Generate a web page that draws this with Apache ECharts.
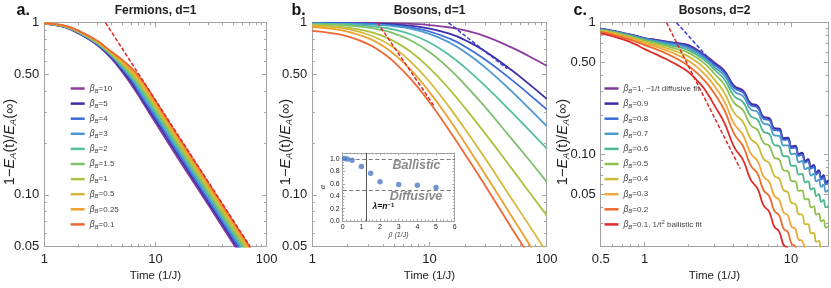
<!DOCTYPE html>
<html>
<head>
<meta charset="utf-8">
<script src="https://cdn.jsdelivr.net/npm/echarts@6.0.0/dist/echarts.min.js"></script>
<style>
html,body{margin:0;padding:0;background:#ffffff;}
#chart{width:831px;height:288px;}
</style>
</head>
<body>
<div id="chart"></div>
<script>
// ================= DATA =================
// ---- Panel a: Fermions, d=1 ----
const timeA = [1,1.5,2,3,4,5,6,7,8,10,15,20,30,50,80];
const betaA = ['10','5','4','3','2','1.5','1','0.5','0.25','0.1'];
const a_b10  = [0.985,0.945,0.87,0.74,0.62,0.52,0.44,0.38,0.33,0.262,0.173,0.130,0.087,0.052,0.0325];
const a_b5   = [0.986,0.947,0.875,0.745,0.63,0.53,0.455,0.39,0.34,0.272,0.18,0.135,0.09,0.054,0.034];
const a_b4   = [0.987,0.95,0.878,0.75,0.64,0.54,0.47,0.40,0.35,0.282,0.187,0.14,0.093,0.056,0.035];
const a_b3   = [0.988,0.952,0.882,0.755,0.645,0.55,0.48,0.415,0.365,0.292,0.193,0.145,0.097,0.058,0.036];
const a_b2   = [0.988,0.954,0.886,0.76,0.65,0.56,0.49,0.43,0.375,0.302,0.2,0.15,0.1,0.06,0.0375];
const a_b1_5 = [0.989,0.956,0.89,0.765,0.655,0.57,0.50,0.44,0.39,0.312,0.207,0.155,0.103,0.062,0.039];
const a_b1   = [0.99,0.958,0.893,0.77,0.66,0.58,0.51,0.455,0.40,0.322,0.213,0.16,0.107,0.064,0.04];
const a_b0_5 = [0.99,0.96,0.896,0.775,0.67,0.59,0.525,0.465,0.41,0.332,0.22,0.165,0.11,0.066,0.041];
const a_b0_25= [0.991,0.962,0.9,0.78,0.675,0.60,0.535,0.48,0.425,0.342,0.227,0.17,0.113,0.068,0.0425];
const a_b0_1 = [0.991,0.964,0.903,0.785,0.68,0.61,0.55,0.495,0.44,0.352,0.233,0.175,0.117,0.07,0.044];
const fitA_red = [[3.55,1.0],[71,0.05]];

// ---- Panel b: Bosons, d=1 ----
const timeB = [1,1.5,2,3,4,5,7,10,15,20,30,50,70,100];
const b_b10  = [0.999,0.999,0.998,0.997,0.995,0.992,0.984,0.969,0.938,0.902,0.832,0.719,0.641,0.562];
const b_b5   = [0.997,0.996,0.995,0.99,0.985,0.977,0.959,0.925,0.86,0.793,0.681,0.531,0.443,0.361];
const b_b4   = [0.994,0.992,0.99,0.983,0.974,0.963,0.936,0.889,0.805,0.728,0.61,0.467,0.386,0.314];
const b_b3   = [0.991,0.989,0.986,0.978,0.967,0.953,0.92,0.862,0.763,0.676,0.548,0.40,0.32,0.251];
const b_b2   = [0.986,0.982,0.976,0.959,0.937,0.912,0.854,0.767,0.643,0.55,0.428,0.303,0.239,0.186];
const b_b1_5 = [0.979,0.972,0.962,0.935,0.902,0.865,0.786,0.675,0.534,0.437,0.322,0.212,0.161,0.119];
const b_b1   = [0.967,0.953,0.935,0.889,0.835,0.779,0.673,0.545,0.406,0.321,0.226,0.143,0.105,0.076];
const b_b0_5 = [0.963,0.943,0.918,0.854,0.783,0.713,0.589,0.454,0.318,0.242,0.162,0.0954,0.0674,0.0464];
const b_b0_25= [0.944,0.92,0.888,0.813,0.733,0.656,0.528,0.395,0.27,0.201,0.131,0.0754,0.0524,0.0353];
const b_b0_1 = [0.896,0.868,0.833,0.751,0.667,0.59,0.467,0.345,0.2326,0.173,0.1126,0.0645,0.0449,0.0302];
const fitB_red  = [[3.6,1.0],[11,0.327]];
const fitB_blue = [[14.5,1.0],[46,0.54]];

// ---- Inset: exponent alpha vs beta ----
const insetBeta  = [0.1,0.25,0.5,1,1.5,2,3,4,5];
const insetAlpha = [1.01,1.0,0.98,0.88,0.77,0.635,0.59,0.575,0.54];
const insetHLines = [1.0,0.5];
const insetVLine = 1.25;

// ---- Panel c: Bosons, d=2 ----
const timeC = [0.5,0.6,0.7,0.85,1,1.2,1.4,1.6,1.8,2,2.25,2.5,2.75,3,3.5,4.1,4.7,5.3,5.9,6.5,7.1,7.7,8.3,8.9,9.5,10.1,10.7,11.3,11.9,12.5,13.1,13.7,14.3,14.9,15.5,16.1,16.7,17.3,18];
const betaC = ['1','0.9','0.8','0.7','0.6','0.5','0.4','0.3','0.2','0.1'];
const c_b1   = [0.90,0.87,0.84,0.80,0.765,0.74,0.72,0.705,0.695,0.675,0.63,0.58,0.54,0.50,0.434,0.332,0.307,0.245,0.235,0.193,0.189,0.158,0.157,0.133,0.134,0.1145,0.116,0.100,0.1025,0.089,0.0915,0.080,0.0825,0.0724,0.0751,0.0661,0.0687,0.0607,0.0629];
const c_b0_9 = [0.90,0.868,0.838,0.798,0.762,0.737,0.716,0.70,0.688,0.667,0.622,0.573,0.532,0.49,0.427,0.327,0.303,0.243,0.233,0.192,0.188,0.1576,0.1569,0.1331,0.1341,0.115,0.1168,0.1009,0.1033,0.0898,0.0924,0.0807,0.0834,0.0732,0.076,0.067,0.0697,0.0616,0.0639];
const c_b0_8 = [0.895,0.864,0.834,0.794,0.757,0.731,0.709,0.692,0.678,0.656,0.612,0.563,0.522,0.48,0.4177,0.3195,0.2958,0.2366,0.2267,0.1864,0.1826,0.1528,0.1521,0.129,0.1299,0.1113,0.113,0.0976,0.0998,0.0867,0.0892,0.0779,0.0804,0.0706,0.0732,0.0645,0.0671,0.0593,0.0615];
const c_b0_7 = [0.89,0.86,0.83,0.789,0.75,0.722,0.698,0.678,0.662,0.638,0.594,0.548,0.505,0.46,0.3973,0.3014,0.2773,0.2205,0.2102,0.1718,0.1677,0.1397,0.1385,0.1171,0.1175,0.1004,0.1016,0.0876,0.0893,0.0774,0.0794,0.0692,0.0714,0.0625,0.0646,0.0568,0.059,0.0521,0.0539];
const c_b0_6 = [0.885,0.855,0.823,0.782,0.742,0.712,0.685,0.662,0.643,0.617,0.574,0.53,0.487,0.44,0.3725,0.277,0.2501,0.1957,0.1841,0.1487,0.1434,0.1182,0.1161,0.0973,0.0968,0.082,0.0824,0.0705,0.0714,0.0615,0.0627,0.0543,0.0557,0.0485,0.05,0.0437,0.0452,0.0397,0.0408];
const c_b0_5 = [0.88,0.848,0.815,0.772,0.73,0.697,0.667,0.64,0.617,0.59,0.546,0.502,0.457,0.41,0.3387,0.2455,0.217,0.1666,0.1539,0.1224,0.1164,0.0947,0.0919,0.0761,0.075,0.0629,0.0626,0.0531,0.0534,0.0456,0.0461,0.0397,0.0404,0.035,0.0358,0.0311,0.032,0.0279,0.0285];
const c_b0_4 = [0.87,0.837,0.803,0.758,0.714,0.677,0.643,0.612,0.583,0.553,0.508,0.463,0.415,0.37,0.295,0.2061,0.1766,0.1319,0.1189,0.0924,0.0862,0.0688,0.0657,0.0535,0.0519,0.0429,0.0422,0.0353,0.0351,0.0296,0.0297,0.0253,0.0255,0.0218,0.0221,0.0191,0.0195];
const c_b0_3 = [0.86,0.825,0.79,0.743,0.697,0.655,0.617,0.582,0.547,0.513,0.466,0.42,0.375,0.33,0.2532,0.17,0.1407,0.102,0.0895,0.068,0.0619,0.0485,0.0454,0.0364,0.0347,0.0283,0.0274,0.0226,0.0222,0.0185];
const c_b0_2 = [0.85,0.812,0.775,0.725,0.675,0.628,0.585,0.545,0.506,0.468,0.42,0.375,0.332,0.29,0.2177,0.143,0.1161,0.0828,0.0716,0.0536,0.0483,0.0374,0.0346,0.0274,0.0259,0.021,0.0201,0.0165];
const c_b0_1 = [0.83,0.79,0.75,0.69,0.63,0.575,0.53,0.49,0.455,0.42,0.37,0.325,0.278,0.235,0.1745,0.1134,0.0912,0.0645,0.0553,0.0411,0.0368,0.0283,0.0261,0.0206,0.0194,0.015];
const fitC_red  = [[1.41,1.0],[4.5,0.078]];
const fitC_blue = [[1.65,1.0],[2.95,0.49]];

// ---- Tick labels ----
const yTickValsAB = [0.05,0.1,0.5,1];
const yTickTextAB = ['0.05','0.10','0.50','1'];
const yMinorAB = [0.06,0.07,0.08,0.09,0.2,0.3,0.4,0.6,0.7,0.8,0.9];
const xTickValsAB = [1,10,100];
const xTickTextAB = ['1','10','100'];
const xMinorAB = [2,3,4,5,6,7,8,9,20,30,40,50,60,70,80,90];
const yTickValsC = [0.05,0.1,0.5,1];
const yTickTextC = ['0.05','0.10','0.50','1'];
const yMinorC = [0.02,0.03,0.04,0.06,0.07,0.08,0.09,0.2,0.3,0.4,0.6,0.7,0.8,0.9];
const xTickValsC = [0.5,1,10];
const xTickTextC = ['0.5','1','10'];
const xMinorC = [0.6,0.7,0.8,0.9,2,3,4,5,6,7,8,9];
const xTickValsIn = [0,1,2,3,4,5,6];
const xTickTextIn = ['0','1','2','3','4','5','6'];
const yTickValsIn = [0,0.2,0.4,0.6,0.8,1.0];
const yTickTextIn = ['0.0','0.2','0.4','0.6','0.8','1.0'];
const xMinorIn = [0.2,0.4,0.6,0.8,1.2,1.4,1.6,1.8,2.2,2.4,2.6,2.8,3.2,3.4,3.6,3.8,4.2,4.4,4.6,4.8,5.2,5.4,5.6,5.8];
const yMinorIn = [0.05,0.1,0.15,0.25,0.3,0.35,0.45,0.5,0.55,0.65,0.7,0.75,0.85,0.9,0.95,1.05];

// ---- Colours ----
const colorsAB = ['#8b3c9d','#3b2ea6','#3d6cd9','#4a98d0','#55bfa0','#80c06c','#a9c340','#d6b93b','#f0a02e','#ec6934'];
const colorsC  = ['#7d3b98','#3a2ea8','#3e6cd6','#4c9ac9','#4cb88c','#8fc04f','#cdbb34','#f0a83a','#ef6b2c','#e02b2b'];
const fitRed = '#e0282a', fitBlue = '#3c3cc8';

// ================= BUILD =================
const fnt = 'Liberation Sans, Arial, Helvetica, sans-serif';
const frame = '#a3a3a3';
const xAxes = [], yAxes = [];

function fmtPairs(vals, texts) {
  return function (v) {
    for (let i = 0; i < vals.length; i++) {
      if (Math.abs(v - vals[i]) <= 1e-6 * Math.abs(vals[i]) + 1e-9) return texts[i];
    }
    return '';
  };
}

function addAxes(list, gridIndex, dim, type, min, max, majors, minors, labels, fmt, o) {
  const mainPos = dim === 'x' ? 'bottom' : 'left';
  const oppPos = dim === 'x' ? 'top' : 'right';
  const base = {type: type, gridIndex: gridIndex, min: min, max: max, splitLine: {show: false}, splitArea: {show: false}, axisPointer: {show: false}, silent: true};
  if (type === 'log') base.logBase = 10;
  const idx = list.length;
  list.push(Object.assign({}, base, {
    position: mainPos,
    axisLine: {show: true, onZero: false, lineStyle: {color: frame, width: 1}},
    axisTick: {show: true, inside: true, length: o.major, customValues: majors, lineStyle: {color: frame, width: 1}},
    axisLabel: {show: true, customValues: labels, formatter: fmt, margin: o.margin, fontSize: o.fs, color: '#222', fontFamily: fnt}
  }));
  list.push(Object.assign({}, base, {
    position: mainPos,
    axisLine: {show: false, onZero: false},
    axisTick: {show: true, inside: true, length: o.minor, customValues: minors, lineStyle: {color: frame, width: 1}},
    axisLabel: {show: false}
  }));
  list.push(Object.assign({}, base, {
    position: oppPos,
    axisLine: {show: true, onZero: false, lineStyle: {color: frame, width: 1}},
    axisTick: {show: true, inside: true, length: o.major, customValues: majors, lineStyle: {color: frame, width: 1}},
    axisLabel: {show: false}
  }));
  list.push(Object.assign({}, base, {
    position: oppPos,
    axisLine: {show: false, onZero: false},
    axisTick: {show: true, inside: true, length: o.minor, customValues: minors, lineStyle: {color: frame, width: 1}},
    axisLabel: {show: false}
  }));
  return idx;
}

const mainOpt = {major: 4.5, minor: 2.5, margin: 6, fs: 13};
const mainOptY = {major: 4.5, minor: 2.5, margin: 5, fs: 13};
const inOpt = {major: 2.5, minor: 1.5, margin: 3, fs: 7};

const grids = [
  {left: 44.3, top: 22.7, width: 222.4, height: 224},
  {left: 312.3, top: 22.7, width: 234.4, height: 224},
  {left: 600.7, top: 22.7, width: 227.6, height: 224},
  {left: 342.7, top: 152.8, width: 112, height: 68.2, show: true, backgroundColor: '#ffffff', borderWidth: 0}
].map(g => Object.assign({containLabel: false, outerBoundsMode: 'none'}, g));

const xa = addAxes(xAxes, 0, 'x', 'log', 1, 100, xTickValsAB, xMinorAB, xTickValsAB, fmtPairs(xTickValsAB, xTickTextAB), mainOpt);
const ya = addAxes(yAxes, 0, 'y', 'log', 0.05, 1, yTickValsAB, yMinorAB, yTickValsAB, fmtPairs(yTickValsAB, yTickTextAB), mainOptY);
const xb = addAxes(xAxes, 1, 'x', 'log', 1, 100, xTickValsAB, xMinorAB, xTickValsAB, fmtPairs(xTickValsAB, xTickTextAB), mainOpt);
const yb = addAxes(yAxes, 1, 'y', 'log', 0.05, 1, yTickValsAB, yMinorAB, yTickValsAB, fmtPairs(yTickValsAB, yTickTextAB), mainOptY);
const xc = addAxes(xAxes, 2, 'x', 'log', 0.5, 18, xTickValsC, xMinorC, xTickValsC, fmtPairs(xTickValsC, xTickTextC), mainOpt);
const yc = addAxes(yAxes, 2, 'y', 'log', 0.02, 1, yTickValsC, yMinorC, yTickValsC, fmtPairs(yTickValsC, yTickTextC), mainOptY);
const xi = addAxes(xAxes, 3, 'x', 'value', 0, 6, xTickValsIn, xMinorIn, xTickValsIn, fmtPairs(xTickValsIn, xTickTextIn), inOpt);
const yi = addAxes(yAxes, 3, 'y', 'value', 0, 1.1, yTickValsIn, yMinorIn, yTickValsIn, fmtPairs(yTickValsIn, yTickTextIn), inOpt);

function lineSeries(name, xs, ys, color, xIdx, yIdx, sm) {
  return {
    type: 'line', name: name, xAxisIndex: xIdx, yAxisIndex: yIdx,
    data: ys.map((v, i) => [xs[i], v]),
    showSymbol: false, symbol: 'none', smooth: sm, clip: true,
    color: color, lineStyle: {width: 1.8, color: color}, itemStyle: {color: color},
    emphasis: {disabled: true}, silent: true, z: 3, animation: false
  };
}
function fitSeries(name, pts, color, xIdx, yIdx) {
  return {
    type: 'line', name: name, xAxisIndex: xIdx, yAxisIndex: yIdx, data: pts,
    showSymbol: false, symbol: 'none', smooth: false, clip: true,
    lineStyle: {width: 1.5, color: color, type: [4, 2]}, color: color,
    emphasis: {disabled: true}, silent: true, z: 4, animation: false
  };
}

const seriesA = [a_b10, a_b5, a_b4, a_b3, a_b2, a_b1_5, a_b1, a_b0_5, a_b0_25, a_b0_1];
const seriesB = [b_b10, b_b5, b_b4, b_b3, b_b2, b_b1_5, b_b1, b_b0_5, b_b0_25, b_b0_1];
const seriesC = [c_b1, c_b0_9, c_b0_8, c_b0_7, c_b0_6, c_b0_5, c_b0_4, c_b0_3, c_b0_2, c_b0_1];

const series = [];
const namesA = [], namesC = [];
seriesA.forEach((ys, k) => { const n = 'a' + k; namesA.push(n); series.push(lineSeries(n, timeA, ys, colorsAB[k], xa, ya, 0.4)); });
series.push(fitSeries('fitA', fitA_red, fitRed, xa, ya));
seriesB.forEach((ys, k) => { series.push(lineSeries('b' + k, timeB, ys, colorsAB[k], xb, yb, 0.5)); });
series.push(fitSeries('fitBr', fitB_red, fitRed, xb, yb));
series.push(fitSeries('fitBb', fitB_blue, fitBlue, xb, yb));
seriesC.forEach((ys, k) => { const n = 'c' + k; namesC.push(n); series.push(lineSeries(n, timeC, ys, colorsC[k], xc, yc, 0.5)); });
series.push(fitSeries('fitCr', fitC_red, fitRed, xc, yc));
series.push(fitSeries('fitCb', fitC_blue, fitBlue, xc, yc));

series.push({
  type: 'scatter', name: 'inset', xAxisIndex: xi, yAxisIndex: yi,
  data: insetBeta.map((b, i) => [b, insetAlpha[i]]),
  symbol: 'circle', symbolSize: 5.5, itemStyle: {color: '#4f7cc4'}, z: 6, silent: true, animation: false,
  markLine: {
    silent: true, symbol: 'none', animation: false, label: {show: false},
    data: insetHLines.map(v => ({yAxis: v, lineStyle: {type: [4, 2.5], color: '#7a7a7a', width: 1.2}}))
      .concat([{xAxis: insetVLine, lineStyle: {type: 'solid', color: '#555', width: 1}}])
  }
});

const legA = {};
namesA.forEach((n, k) => { legA[n] = '{b|β}{s|B}{n|=' + betaA[k] + '}'; });
const legC = {};
namesC.forEach((n, k) => {
  let t = '{b|β}{s|B}{n|=' + betaC[k] + '}';
  if (k === 0) t = '{b|β}{s|B}{n|=1, ~1/t diffusive fit}';
  if (k === 9) t = '{b|β}{s|B}{n|=0.1, 1/t}{p|2}{n| ballistic fit}';
  legC[n] = t;
});
const richLeg = {
  b: {fontStyle: 'italic', fontSize: 8.5, lineHeight: 11, fontFamily: fnt, color: '#444'},
  s: {fontStyle: 'italic', fontSize: 6, lineHeight: 5, verticalAlign: 'bottom', fontFamily: fnt, color: '#444'},
  n: {fontSize: 8, lineHeight: 11, fontFamily: fnt, color: '#444'},
  p: {fontSize: 6, lineHeight: 5, verticalAlign: 'top', fontFamily: fnt, color: '#444'}
};
function legendCfg(data, left, fmtMap) {
  return {
    data: data, orient: 'vertical', left: left, top: 83, padding: 0,
    itemWidth: 14, itemHeight: 2.5, itemGap: 4.1, icon: 'rect', selectedMode: false,
    formatter: n => fmtMap[n],
    textStyle: {color: '#444', fontFamily: fnt, fontSize: 8, lineHeight: 11, rich: richLeg}
  };
}

const yNameRich = {
  n: {fontSize: 14.5, fontFamily: fnt, fill: '#222', lineHeight: 17},
  e: {fontSize: 14.5, fontStyle: 'italic', fontFamily: fnt, fill: '#222', lineHeight: 17},
  s: {fontSize: 9.5, fontStyle: 'italic', fontFamily: fnt, fill: '#222', lineHeight: 8, verticalAlign: 'bottom'}
};
const yNameText = '{n|1−}{e|E}{s|A}{n|(t)/}{e|E}{s|A}{n|(∞)}';
function yName(x) {
  return {type: 'text', x: x, y: 142, rotation: Math.PI / 2, silent: true,
    style: {text: yNameText, rich: yNameRich, align: 'center', verticalAlign: 'middle'}};
}
function txt(x, y, s, font, fill, align) {
  return {type: 'text', x: x, y: y, silent: true,
    style: {text: s, font: font, fill: fill || '#222', align: align || 'center', verticalAlign: 'middle'}};
}

const graphic = [
  txt(16.5, 11, 'a.', 'bold 16px ' + fnt, '#111', 'left'),
  txt(291.5, 11, 'b.', 'bold 16px ' + fnt, '#111', 'left'),
  txt(573.5, 11, 'c.', 'bold 16px ' + fnt, '#111', 'left'),
  txt(155.5, 10.7, 'Fermions, d=1', 'bold 12px ' + fnt),
  txt(429.5, 10.7, 'Bosons, d=1', 'bold 12px ' + fnt),
  txt(714.5, 10.7, 'Bosons, d=2', 'bold 12px ' + fnt),
  txt(155.5, 275.5, 'Time (1/J)', '11.5px ' + fnt),
  txt(429.5, 275.5, 'Time (1/J)', '11.5px ' + fnt),
  txt(714.5, 275.5, 'Time (1/J)', '11.5px ' + fnt),
  yName(10), yName(285.5), yName(562.5),
  txt(416.5, 165.7, 'Ballistic', 'italic bold 12.5px ' + fnt, '#8a8a8a'),
  txt(416, 196.7, 'Diffusive', 'italic bold 12.5px ' + fnt, '#8a8a8a'),
  {type: 'text', x: 372.5, y: 207, silent: true, style: {text: '{a|λ=n}{p|−1}', align: 'left', verticalAlign: 'middle',
    rich: {a: {font: 'italic bold 8.5px ' + fnt, fill: '#111', lineHeight: 10}, p: {font: 'bold 6px ' + fnt, fill: '#111', lineHeight: 5, verticalAlign: 'top'}}}},
  {type: 'text', x: 323, y: 187, rotation: Math.PI / 2, silent: true, style: {text: 'α', font: 'italic 7.5px ' + fnt, fill: '#444', align: 'center', verticalAlign: 'middle'}},
  txt(398.5, 235.5, 'β (1/J)', 'italic 7px ' + fnt, '#444')
];

const option = {
  animation: false,
  backgroundColor: '#ffffff',
  textStyle: {fontFamily: fnt},
  grid: grids,
  xAxis: xAxes,
  yAxis: yAxes,
  legend: [legendCfg(namesA, 70.7, legA), legendCfg(namesC, 604.5, legC)],
  series: series,
  graphic: graphic
};

const chart = echarts.init(document.getElementById('chart'), null, {renderer: 'canvas', width: 831, height: 288});
chart.setOption(option);
</script>
</body>
</html>
